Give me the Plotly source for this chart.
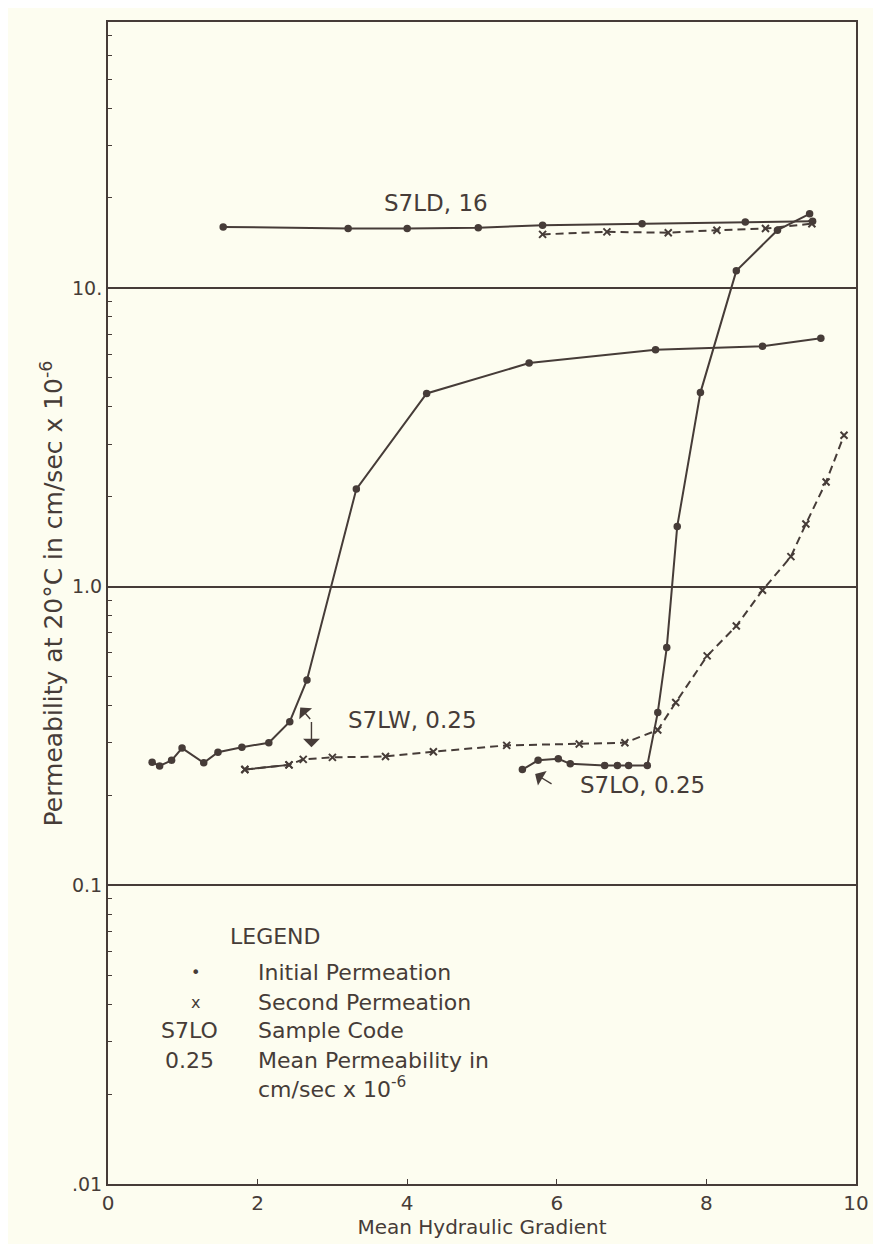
import numpy as np
import plotly.graph_objects as go

# ---------------- data ----------------
# S7LD, initial permeation (solid, dots)
s7ld_init_x = [1.54, 3.21, 4.00, 4.95, 5.81, 7.14, 8.52, 9.42]
s7ld_init_y = [16.0, 15.8, 15.8, 15.9, 16.2, 16.4, 16.6, 16.7]
# S7LD, second permeation (dashed, x)
s7ld_sec_x = [5.81, 6.67, 7.49, 8.14, 8.79, 9.41]
s7ld_sec_y = [15.1, 15.4, 15.3, 15.6, 15.8, 16.4]
# S7LW, initial permeation (solid, dots)
s7lw_init_x = [0.59, 0.69, 0.85, 0.99, 1.28, 1.47, 1.79, 2.15, 2.43, 2.66,
               3.32, 4.26, 5.63, 7.32, 8.75, 9.53]
s7lw_init_y = [0.258, 0.251, 0.262, 0.288, 0.257, 0.279, 0.290, 0.300, 0.353, 0.487,
               2.12, 4.43, 5.60, 6.20, 6.37, 6.78]
# second permeation (dashed, x) starting at low gradient
s7lw_sec_x = [1.83, 2.42, 2.61, 3.00, 3.71, 4.35, 5.33, 6.30, 6.91, 7.35, 7.59,
              8.01, 8.40, 8.75, 9.13, 9.33, 9.60, 9.84]
s7lw_sec_y = [0.244, 0.253, 0.264, 0.268, 0.270, 0.280, 0.294, 0.297, 0.300, 0.331, 0.409,
              0.586, 0.738, 0.972, 1.26, 1.62, 2.24, 3.21]
# S7LO, initial permeation (solid, dots)
s7lo_init_x = [5.54, 5.75, 6.02, 6.18, 6.64, 6.81, 6.96, 7.21, 7.35, 7.47, 7.61,
               7.92, 8.40, 8.95, 9.38]
s7lo_init_y = [0.244, 0.262, 0.265, 0.255, 0.252, 0.252, 0.252, 0.252, 0.379, 0.625, 1.59,
               4.46, 11.4, 15.6, 17.7]

# axis ticks
y_tickvals = [0.01, 0.1, 1.0, 10.0]
y_ticktext = [".01", "0.1", "1.0", "10."]
x_tickvals = [0, 2, 4, 6, 8, 10]
x_ticktext = ["0", "2", "4", "6", "8", "10"]

# legend block text
legend_symbols = ["\u2022", "x", "S7LO", "0.25"]
legend_texts = ["Initial Permeation", "Second Permeation", "Sample Code",
                "Mean Permeability in<br>cm/sec x 10<sup>-6</sup>"]

INK = "#463c38"
BG = "#fdfdf0"
FONT = "DejaVu Sans"

fig = go.Figure()

def solid(x, y):
    fig.add_trace(go.Scatter(x=x, y=y, mode="lines+markers",
                             line=dict(color=INK, width=2),
                             marker=dict(symbol="circle", size=7.5, color=INK),
                             showlegend=False, hoverinfo="skip"))

def dashed(x, y, dash="8px,5px"):
    fig.add_trace(go.Scatter(x=x, y=y, mode="lines+markers",
                             line=dict(color=INK, width=2, dash=dash),
                             marker=dict(symbol="x-thin", size=7,
                                         line=dict(color=INK, width=2), color=INK),
                             showlegend=False, hoverinfo="skip"))

solid(s7ld_init_x, s7ld_init_y)
dashed(s7ld_sec_x, s7ld_sec_y)
solid(s7lw_init_x, s7lw_init_y)
dashed(s7lw_sec_x, s7lw_sec_y)
dashed(s7lw_sec_x[:2], s7lw_sec_y[:2], dash="solid")
solid(s7lo_init_x, s7lo_init_y)

L = np.log10
ann = []
lf = dict(family=FONT, size=23, color=INK)
tf = dict(family=FONT, size=22, color=INK)
sf = dict(family=FONT, size=16, color=INK)
# sample labels
ann.append(dict(x=4.38, y=L(19.2), text="S7LD, 16", showarrow=False, font=lf))
ann.append(dict(x=3.18, y=L(0.357), text="S7LW, 0.25", showarrow=False,
                xanchor="left", font=lf))
ann.append(dict(x=6.28, y=L(0.217), text="S7LO, 0.25", showarrow=False,
                xanchor="left", font=lf))
# S7LW arrows
for hx, hy in [(2.57, 0.394), (2.72, 0.290)]:
    ann.append(dict(x=hx, y=L(hy), ax=2.72, ay=L(0.356), axref="x", ayref="y",
                    text="", showarrow=True, arrowhead=1, arrowsize=2,
                    arrowwidth=1.4, arrowcolor=INK))
# S7LO arrow
ann.append(dict(x=5.71, y=L(0.236), ax=5.95, ay=L(0.217), axref="x", ayref="y",
                text="", showarrow=True, arrowhead=1, arrowsize=2,
                arrowwidth=1.4, arrowcolor=INK))

# legend block
ann.append(dict(x=1.605, y=-1.173, text="LEGEND", showarrow=False, xanchor="left", font=tf))
ys = [-1.293, -1.393, -1.487, -1.587]
sx = [1.167, 1.167, 1.09, 1.09]
for s, t, yy, xx in zip(legend_symbols, legend_texts, ys, sx):
    ann.append(dict(x=xx, y=yy, text=s, showarrow=False, xanchor="center",
                    font=sf if len(s) == 1 else tf))
    if "<br>" in t:
        ann.append(dict(x=1.978, y=yy, text=t, showarrow=False, xanchor="left",
                        yanchor="top", yshift=15, align="left", font=tf))
    else:
        ann.append(dict(x=1.978, y=yy, text=t, showarrow=False, xanchor="left", font=tf))

# y axis title
ann.append(dict(x=-0.0987, y=0.508, xref="paper", yref="paper", textangle=-90,
                text="Permeability at 20\u00b0C in cm/sec x 10<sup>-6</sup>",
                showarrow=False, font=dict(family=FONT, size=25, color=INK)))

shapes = [dict(type="line", x0=2.72, x1=3.07, y0=L(0.356), y1=L(0.356),
               xref="x", yref="y", line=dict(color=INK, width=1.5)),
          dict(type="line", x0=5.95, x1=6.25, y0=L(0.217), y1=L(0.217),
               xref="x", yref="y", line=dict(color=INK, width=1.5))]

minor_vals = [m * 10.0 ** e for e in range(-2, 2) for m in range(2, 10)]

fig.update_layout(
    width=873, height=1236,
    margin=dict(l=100, r=13, t=12, b=56),
    paper_bgcolor=BG, plot_bgcolor=BG,
    font=dict(family=FONT, color=INK),
    annotations=ann, shapes=shapes,
    xaxis=dict(range=[0, 10], tickvals=x_tickvals, ticktext=x_ticktext,
               showgrid=False, zeroline=False, showline=True, mirror=True,
               linecolor=INK, linewidth=2, ticks="inside", ticklen=5,
               tickcolor=INK, tickfont=dict(family=FONT, size=20, color=INK),
               title=dict(text="Mean Hydraulic Gradient", standoff=3,
                          font=dict(family=FONT, size=20, color=INK))),
    yaxis=dict(type="log", range=[-2, 1.89], tickvals=y_tickvals, ticktext=y_ticktext,
               showgrid=True, gridcolor=INK, gridwidth=1.6, zeroline=False,
               showline=True, mirror=True, linecolor=INK, linewidth=2,
               ticks="inside", ticklen=6, tickcolor=INK,
               tickfont=dict(family=FONT, size=19, color=INK),
               minor=dict(tickvals=minor_vals, ticks="inside", ticklen=4,
                          tickcolor=INK, showgrid=False)),
)

fig.write_html("out.html")
